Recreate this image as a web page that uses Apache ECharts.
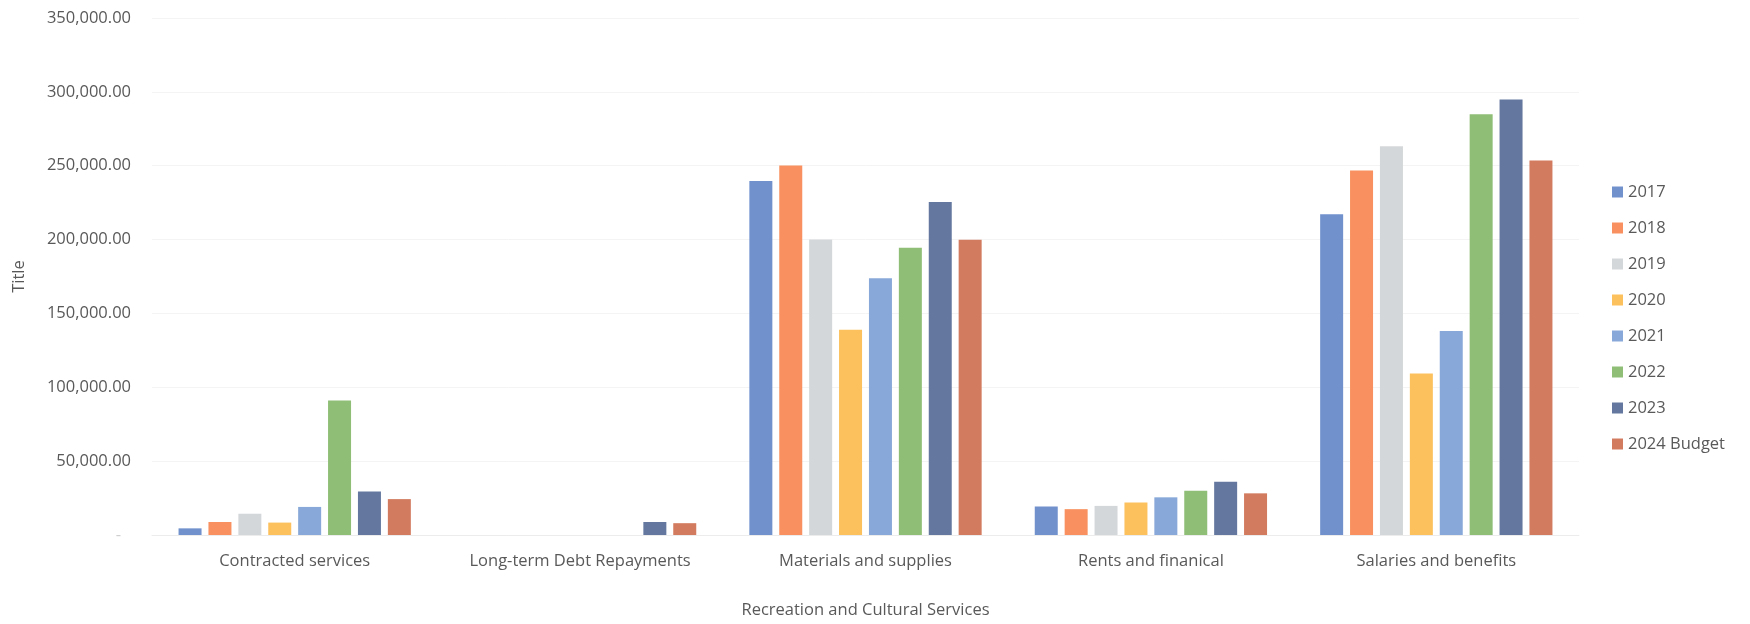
<!DOCTYPE html>
<html>
<head>
<meta charset="utf-8">
<script src="https://cdn.jsdelivr.net/npm/echarts@6/dist/echarts.min.js"></script>
<style>
  html, body { margin: 0; padding: 0; background: #ffffff; }
  #chart { width: 1750px; height: 624px; }
</style>
</head>
<body>
<div id="chart"></div>
<script>
// Expense categories along the x axis
const categories = [
  'Contracted services',
  'Long-term Debt Repayments',
  'Materials and supplies',
  'Rents and finanical',
  'Salaries and benefits'
];

// One series per year (values per category, same order as above)
const seriesNames = ['2017', '2018', '2019', '2020', '2021', '2022', '2023', '2024 Budget'];
const values2017 = [4500, 0, 239600, 19300, 217100];
const values2018 = [8800, 0, 250200, 17500, 246700];
const values2019 = [14400, 0, 200000, 19700, 263200];
const values2020 = [8400, 0, 138900, 22000, 109400];
const values2021 = [19000, 0, 173800, 25500, 138100];
const values2022 = [91000, 0, 194400, 29900, 284900];
const values2023 = [29400, 8800, 225500, 36100, 294800];
const values2024 = [24300, 8000, 199900, 28200, 253500];

const seriesColors = ['#7191cc', '#f8915f', '#d4d7d9', '#fcc15c', '#87a8d9', '#8fbe76', '#64789f', '#d37b5f'];

const allValues = [values2017, values2018, values2019, values2020, values2021, values2022, values2023, values2024];

const FONT = '"Open Sans", "Liberation Sans", sans-serif';
const TEXT_COLOR = '#595959';

const chart = echarts.init(document.getElementById('chart'), null, { renderer: 'canvas' });

chart.setOption({
  animation: false,
  backgroundColor: '#ffffff',
  textStyle: { fontFamily: FONT },
  grid: { left: 152, right: 171, top: 18, bottom: 77 },
  legend: {
    orient: 'vertical',
    left: 1607,
    top: 177,
    padding: 5,
    itemWidth: 11,
    itemHeight: 11,
    itemGap: 16,
    icon: 'rect',
    data: seriesNames,
    textStyle: { fontFamily: FONT, fontSize: 16.5, color: TEXT_COLOR, lineHeight: 20 }
  },
  xAxis: {
    type: 'category',
    data: categories,
    name: 'Recreation and Cultural Services',
    nameLocation: 'middle',
    nameGap: 67,
    nameTextStyle: { fontFamily: FONT, fontSize: 16.5, color: TEXT_COLOR },
    axisLine: { show: true, lineStyle: { color: '#ececec', width: 1 } },
    axisTick: { show: false },
    axisLabel: { fontFamily: FONT, fontSize: 16.5, color: TEXT_COLOR, margin: 18, interval: 0 }
  },
  yAxis: {
    type: 'value',
    min: 0,
    max: 350000,
    interval: 50000,
    name: 'Title',
    nameLocation: 'middle',
    nameGap: 124,
    nameRotate: 90,
    nameTextStyle: { fontFamily: FONT, fontSize: 16.5, color: TEXT_COLOR },
    axisLine: { show: false },
    axisTick: { show: false },
    splitLine: { show: true, lineStyle: { color: '#f4f4f4', width: 1 } },
    axisLabel: {
      fontFamily: FONT,
      fontSize: 16.5,
      color: TEXT_COLOR,
      margin: 21,
      formatter: function (v) {
        if (v === 0) return '{z|-}';
        return v.toLocaleString('en-US', { minimumFractionDigits: 2, maximumFractionDigits: 2 });
      },
      rich: {
        z: { color: '#cfcfcf', fontSize: 16.5, padding: [0, 10, 0, 0] }
      }
    }
  },
  series: seriesNames.map(function (name, i) {
    return {
      name: name,
      type: 'bar',
      data: allValues[i],
      barWidth: 23,
      barGap: '30%',
      itemStyle: { color: seriesColors[i] }
    };
  })
});
</script>
</body>
</html>
